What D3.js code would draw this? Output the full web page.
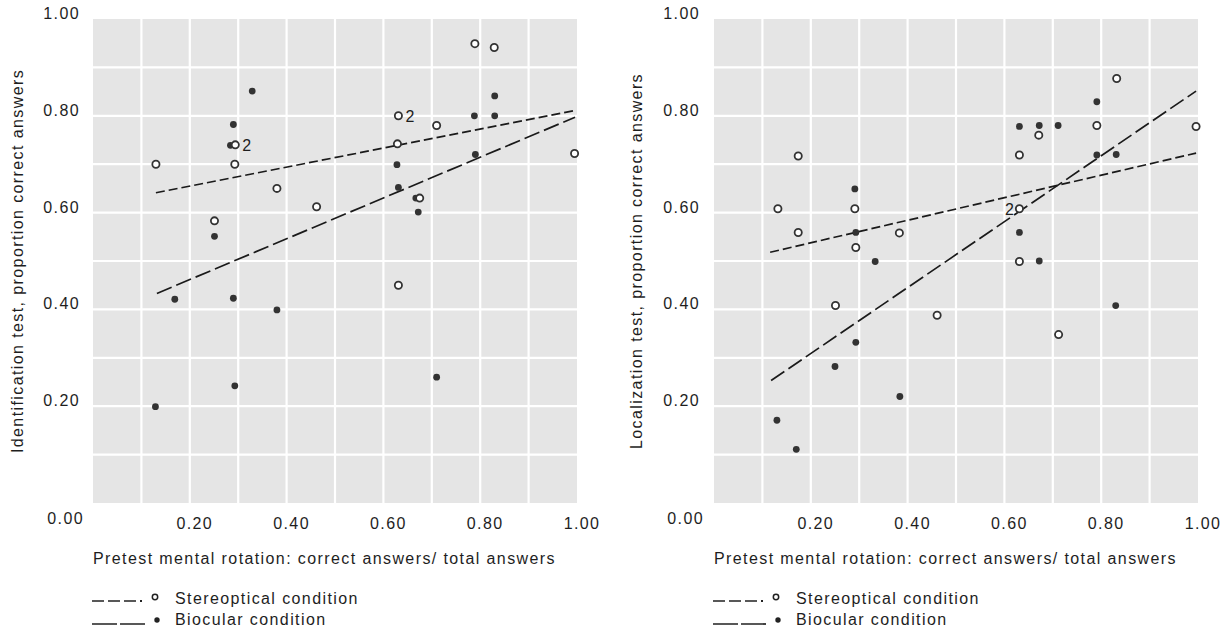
<!DOCTYPE html>
<html>
<head>
<meta charset="utf-8">
<script src="https://cdn.jsdelivr.net/npm/d3@7"></script>
<style>
  body { margin: 0; background: #fff; }
  text { font-family: "Liberation Sans", Arial, sans-serif; fill: #1e1e1e; letter-spacing: 1.4px; }
</style>
</head>
<body>
<div class="fig"></div>
<script>
// tick labels
var tickVals = [0.2, 0.4, 0.6, 0.8, 1.0];
var gridVals = [0.1, 0.2, 0.3, 0.4, 0.5, 0.6, 0.7, 0.8, 0.9];

// left panel: identification test
var identStereo = [[0.13,0.70],[0.294,0.74],[0.293,0.70],[0.38,0.65],[0.462,0.612],[0.251,0.583],
  [0.789,0.949],[0.829,0.941],[0.631,0.80],[0.71,0.78],[0.629,0.742],[0.995,0.722],[0.675,0.63],[0.631,0.45]];
var identBiocular = [[0.329,0.851],[0.29,0.782],[0.284,0.739],[0.251,0.551],[0.169,0.421],[0.29,0.423],
  [0.38,0.399],[0.293,0.242],[0.129,0.199],[0.83,0.841],[0.788,0.80],[0.83,0.80],[0.628,0.699],
  [0.631,0.652],[0.79,0.72],[0.667,0.63],[0.672,0.601],[0.71,0.26]];
var identStereoFit = [[0.13,0.641],[0.996,0.811]];
var identBiocularFit = [[0.132,0.433],[0.996,0.797]];
var identTwos = [[0.294,0.74,"right"],[0.631,0.80,"right"]];

// right panel: localization test
var locStereo = [[0.174,0.717],[0.132,0.608],[0.291,0.608],[0.174,0.559],[0.383,0.558],[0.293,0.528],
  [0.251,0.408],[0.461,0.388],[0.712,0.348],[0.832,0.877],[0.791,0.78],[0.996,0.778],[0.671,0.76],
  [0.631,0.719],[0.631,0.608],[0.631,0.499]];
var locBiocular = [[0.291,0.649],[0.293,0.559],[0.333,0.499],[0.293,0.332],[0.25,0.282],[0.384,0.22],
  [0.13,0.171],[0.17,0.111],[0.83,0.408],[0.791,0.829],[0.631,0.778],[0.672,0.78],[0.711,0.78],
  [0.791,0.719],[0.831,0.72],[0.631,0.559],[0.672,0.50]];
var locStereoFit = [[0.116,0.518],[0.996,0.723]];
var locBiocularFit = [[0.118,0.253],[0.996,0.851]];
var locTwos = [[0.631,0.608,"left"]];

var xTitle = "Pretest mental rotation: correct answers/ total answers";
var legendLabels = ["Stereoptical condition", "Biocular condition"];

var svg = d3.select(".fig").append("svg")
  .attr("width", 1227)
  .attr("height", 633);

function panel(left, yTitle, yTitleX, yLabelRight, stereo, bio, sFit, bFit, twos) {
  var top = 19, size = 484;
  var x = d3.scaleLinear().domain([0, 1]).range([left, left + size]);
  var y = d3.scaleLinear().domain([0, 1]).range([top + size, top]);
  var g = svg.append("g");

  g.append("rect")
    .attr("x", x(0)).attr("y", y(1))
    .attr("width", size).attr("height", size)
    .attr("fill", "#e5e5e5");

  g.selectAll(".vg").data(gridVals).enter().append("line")
    .attr("x1", d => x(d)).attr("x2", d => x(d))
    .attr("y1", y(0)).attr("y2", y(1))
    .attr("stroke", "#fff").attr("stroke-width", 2.2);
  g.selectAll(".hg").data(gridVals).enter().append("line")
    .attr("y1", d => y(d)).attr("y2", d => y(d))
    .attr("x1", x(0)).attr("x2", x(1))
    .attr("stroke", "#fff").attr("stroke-width", 2.2);

  // tick labels
  g.selectAll(".xt").data(tickVals).enter().append("text")
    .attr("x", d => x(d) + 5).attr("y", y(0) + 26)
    .attr("text-anchor", "middle")
    .style("font-size", "16px")
    .text(d => d3.format(".2f")(d));
  g.selectAll(".yt").data(tickVals).enter().append("text")
    .attr("x", yLabelRight).attr("y", d => y(d))
    .attr("text-anchor", "end")
    .style("font-size", "16px")
    .text(d => d3.format(".2f")(d));
  g.append("text")
    .attr("x", yLabelRight + 4).attr("y", y(0) + 21)
    .attr("text-anchor", "end")
    .style("font-size", "16px")
    .text("0.00");

  // titles
  g.append("text")
    .attr("x", x(0)).attr("y", y(0) + 61)
    .style("font-size", "16px")
    .text(xTitle);
  g.append("text")
    .attr("transform", "translate(" + yTitleX + "," + y(0.5) + ") rotate(-90)")
    .attr("text-anchor", "middle")
    .style("font-size", "16px")
    .text(yTitle);

  // fit lines
  var line = d3.line().x(d => x(d[0])).y(d => y(d[1]));
  g.append("path").attr("d", line(sFit))
    .attr("fill", "none").attr("stroke", "#1a1a1a").attr("stroke-width", 1.7)
    .attr("stroke-dasharray", "9,4");
  g.append("path").attr("d", line(bFit))
    .attr("fill", "none").attr("stroke", "#1a1a1a").attr("stroke-width", 1.7)
    .attr("stroke-dasharray", "16,5");

  // points
  g.selectAll(".bp").data(bio).enter().append("circle")
    .attr("cx", d => x(d[0])).attr("cy", d => y(d[1]))
    .attr("r", 3.4).attr("fill", "#333");
  g.selectAll(".sp").data(stereo).enter().append("circle")
    .attr("cx", d => x(d[0])).attr("cy", d => y(d[1]))
    .attr("r", 3.6).attr("fill", "#fff")
    .attr("stroke", "#333").attr("stroke-width", 1.8);

  g.selectAll(".two").data(twos).enter().append("text")
    .attr("x", d => d[2] == "right" ? x(d[0]) + 7 : x(d[0]) - 4)
    .attr("y", d => y(d[1]) + 6)
    .attr("text-anchor", d => d[2] == "right" ? "start" : "end")
    .style("font-size", "16px")
    .text("2");

  // legend
  var lx = x(0) - 1;
  g.append("line").attr("x1", lx).attr("x2", lx + 46).attr("y1", 601).attr("y2", 601)
    .attr("stroke", "#222").attr("stroke-width", 1.7).attr("stroke-dasharray", "12,4");
  g.append("rect").attr("x", lx + 48).attr("y", 600).attr("width", 2).attr("height", 2).attr("fill", "#222");
  g.append("circle").attr("cx", lx + 63).attr("cy", 597).attr("r", 2.7)
    .attr("fill", "#fff").attr("stroke", "#222").attr("stroke-width", 1.5);
  g.append("text").attr("x", lx + 83).attr("y", 604).style("font-size", "16px").text(legendLabels[0]);

  g.append("line").attr("x1", lx).attr("x2", lx + 54).attr("y1", 624).attr("y2", 624)
    .attr("stroke", "#222").attr("stroke-width", 1.7).attr("stroke-dasharray", "25,3");
  g.append("circle").attr("cx", lx + 65).attr("cy", 620).attr("r", 2.7).attr("fill", "#222");
  g.append("text").attr("x", lx + 83).attr("y", 625).style("font-size", "16px").text(legendLabels[1]);
}

panel(93, "Identification test, proportion correct answers", 23, 80,
  identStereo, identBiocular, identStereoFit, identBiocularFit, identTwos);
panel(714, "Localization test, proportion correct answers", 642, 700,
  locStereo, locBiocular, locStereoFit, locBiocularFit, locTwos);
</script>
</body>
</html>
